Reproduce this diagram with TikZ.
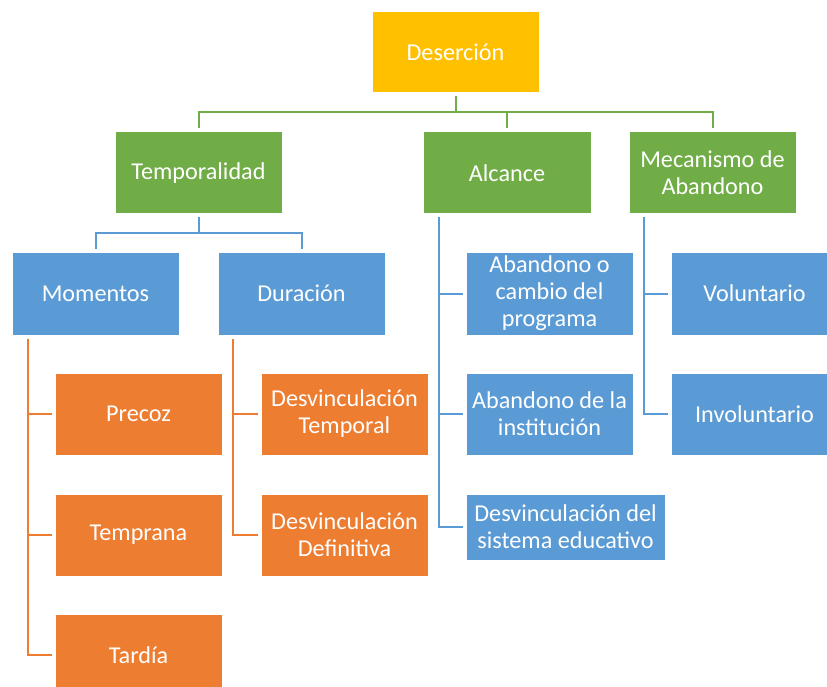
\documentclass[tikz,border=0pt]{standalone}
\usepackage{fontspec}
\setmainfont{Carlito}
\definecolor{cYel}{HTML}{FFC000}
\definecolor{cGrn}{HTML}{70AD47}
\definecolor{cBlu}{HTML}{5B9BD5}
\definecolor{cOrg}{HTML}{ED7D31}
\tikzset{
  box/.style={rectangle, draw=white, line width=1pt, inner sep=0pt, align=center,
    text=white, font=\fontsize{24.2pt}{27pt}\selectfont,
    minimum width=167pt, minimum height=82pt},
  ybox/.style={box, fill=cYel},
  gbox/.style={box, fill=cGrn},
  bbox/.style={box, fill=cBlu},
  obox/.style={box, fill=cOrg},
  conn/.style={line width=2pt, shorten <=3pt, shorten >=3pt},
  gline/.style={conn, draw=cGrn},
  bline/.style={conn, draw=cBlu},
  oline/.style={conn, draw=cOrg},
}
\begin{document}
\begin{tikzpicture}[x=1pt,y=-1pt]
\useasboundingbox (0,0) rectangle (827,687);
\clip (0,0) rectangle (827,687);
% level 0
\node[ybox, minimum height=81pt] (des) at (455.5,52.5) {Deserción};
% level 1
\node[gbox] (temp) at (198.5,173) {Temporalidad};
\node[gbox, minimum width=168pt] (alc) at (507,173) {Alcance};
\node[gbox] (mec) at (712.5,173) {Mecanismo de\\Abandono};
% level 2
\node[bbox, minimum height=83pt] (mom) at (95.5,293.5) {Momentos};
\node[bbox, minimum height=83pt] (dur) at (301.5,293.5) {Duración};
% Momentos children
\node[obox] (pre) at (138.5,414) {Precoz};
\node[obox] (tem) at (138.5,535) {Temprana};
\node[obox] (tar) at (138.5,655) {Tardía};
% Duración children
\node[obox] (dtem) at (344.5,414) {Desvinculación\\Temporal};
\node[obox] (ddef) at (344.5,535) {Desvinculación\\Definitiva};
% Alcance children
\node[bbox, minimum height=83pt] (acp) at (549.5,293.5) {Abandono o\\cambio del\\programa};
\node[bbox] (adi) at (549.5,414) {Abandono de la\\institución};
\node[bbox, minimum width=199pt, minimum height=66pt] (dse) at (565.5,527) {Desvinculación del\\sistema educativo};
% Mecanismo children
\node[bbox, minimum height=83pt] (vol) at (754.5,293.5) {Voluntario};
\node[bbox] (inv) at (754.5,414) {Involuntario};
% bars
\coordinate (gbar) at (0,112.5);
\coordinate (bbar) at (0,232.5);
% green connectors
\draw[gline] (des.south) -- (des.south |- gbar) -| (temp.north);
\draw[gline] (des.south) -- (des.south |- gbar) -| (alc.north);
\draw[gline] (des.south) -- (des.south |- gbar) -| (mec.north);
% blue connectors from Temporalidad
\draw[bline] (temp.south) -- (temp.south |- bbar) -| (mom.north);
\draw[bline] (temp.south) -- (temp.south |- bbar) -| (dur.north);
% orange connectors
\draw[oline] ([xshift=16pt]mom.south west) |- (pre.west);
\draw[oline] ([xshift=16pt]mom.south west) |- (tem.west);
\draw[oline] ([xshift=16pt]mom.south west) |- (tar.west);
\draw[oline] ([xshift=15.5pt]dur.south west) |- (dtem.west);
\draw[oline] ([xshift=15.5pt]dur.south west) |- (ddef.west);
% blue connectors from Alcance and Mecanismo
\draw[bline] ([xshift=16.5pt]alc.south west) |- (acp.west);
\draw[bline] ([xshift=16.5pt]alc.south west) |- (adi.west);
\draw[bline] ([xshift=16.5pt]alc.south west) |- (dse.west);
\draw[bline] ([xshift=15.5pt]mec.south west) |- (vol.west);
\draw[bline] ([xshift=15.5pt]mec.south west) |- (inv.west);
\end{tikzpicture}
\end{document}
